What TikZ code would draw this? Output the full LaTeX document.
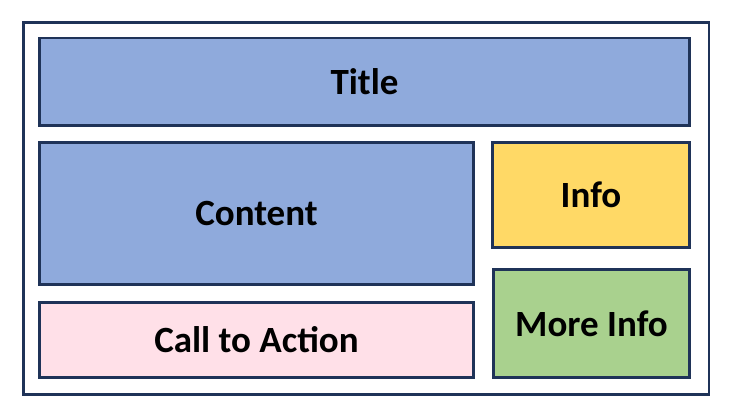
\documentclass[tikz,border=0pt]{standalone}
\usepackage{fontspec}
\setmainfont{Carlito}
\definecolor{navy}{HTML}{1F3358}
\definecolor{blueish}{HTML}{8FAADC}
\definecolor{gold}{HTML}{FFD966}
\definecolor{leaf}{HTML}{A9D18E}
\definecolor{blush}{HTML}{FFE0E8}
\begin{document}
\begin{tikzpicture}[x=1pt,y=-1pt,every node/.style={draw=navy,line width=2.8pt,font=\fontsize{37}{44}\selectfont\bfseries,inner sep=0pt,outer sep=0pt}]
\useasboundingbox (0,0) rectangle (732,419);
\node[fill=white,minimum width=685.5,minimum height=372] (page) at (366.25,208.5) {};
\node[fill=blueish,minimum width=650,minimum height=87.5] (title) at (364.5,81.75) {Title};
\node[fill=blueish,minimum width=434,minimum height=142] (content) at (256.5,213.5) {Content};
\node[fill=gold,minimum width=197,minimum height=105] (info) at (591,195) {Info};
\node[fill=leaf,minimum width=196,minimum height=108] (more) at (591.5,323.5) {More Info};
\node[fill=blush,minimum width=434,minimum height=75] (cta) at (256.5,340) {Call to Action};
\end{tikzpicture}
\end{document}
